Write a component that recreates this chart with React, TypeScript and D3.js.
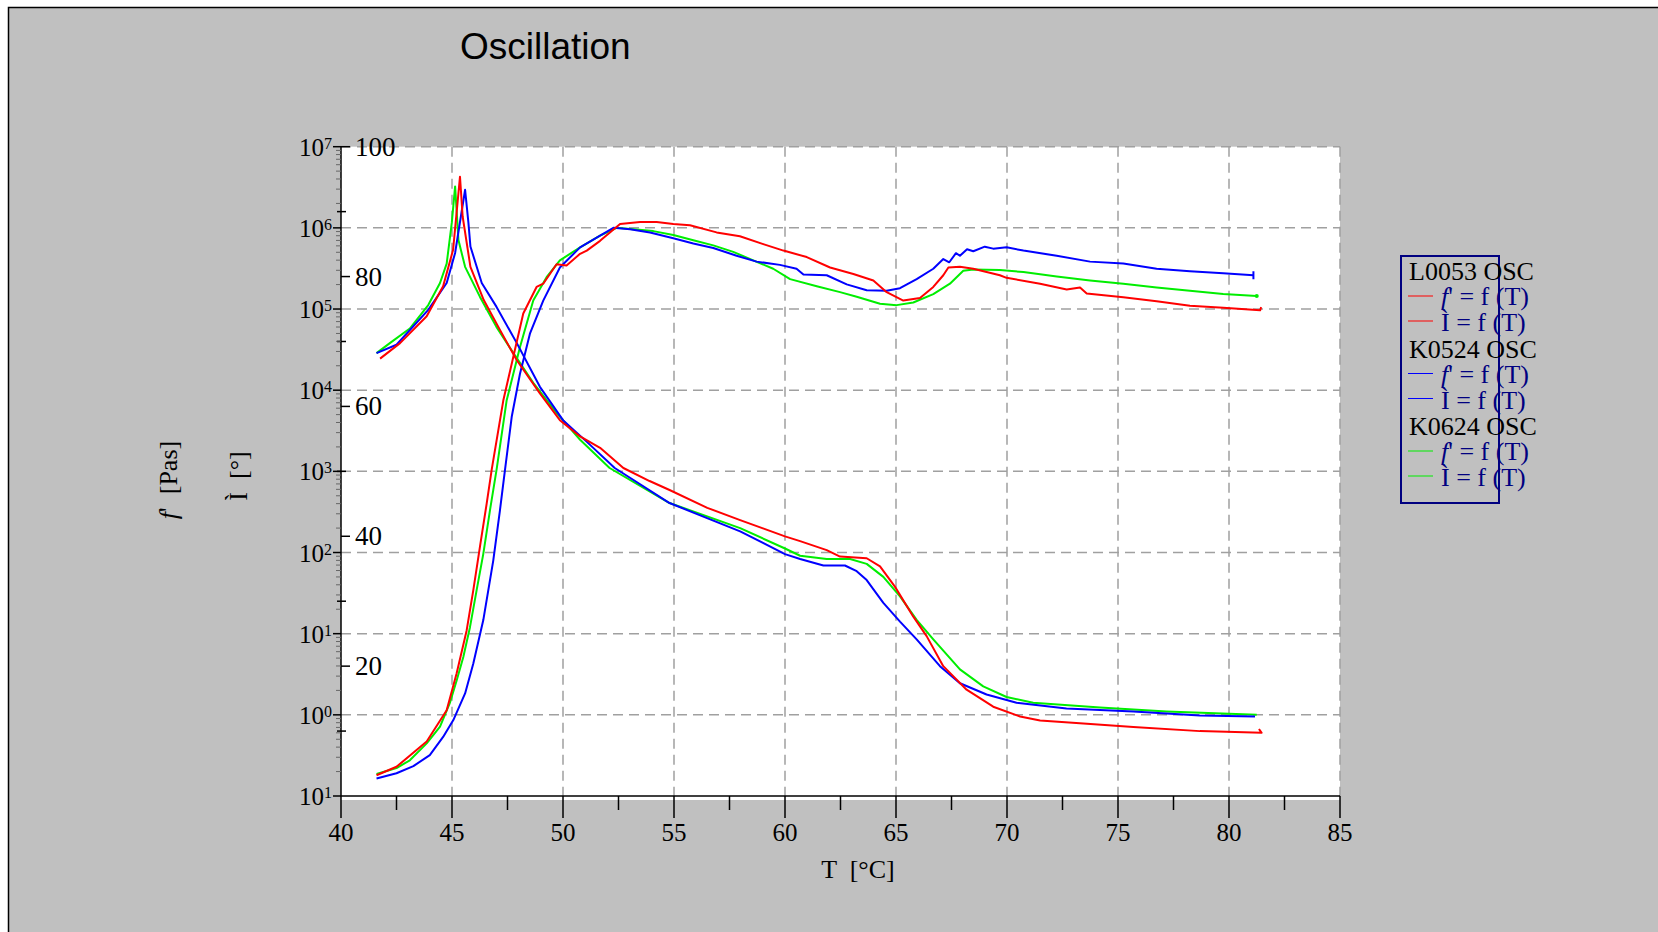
import React from "react";
import * as d3 from "d3";

// oscillation temperature sweep: eta' [Pas] on the log axis, delta [deg] on the linear one
// each point is [T in degC, value]

const redEta: [number, number][] = [
  [41.76, 24500], [42.66, 38000], [43.86, 81300], [44.6, 191000], [45.05, 537000],
  [45.36, 4270000], [45.48, 1380000], [45.83, 331000], [46.43, 129000], [47.16, 55000],
  [47.92, 23400], [48.96, 9120], [49.86, 4270], [50.77, 2690], [51.67, 1950],
  [52.72, 1100], [53.9, 760], [54.8, 589], [56.5, 355], [57.98, 251], [60.0, 158],
  [60.68, 138], [61.88, 107], [62.48, 89], [63.68, 85], [64.28, 67.6], [64.95, 38],
  [65.78, 16.2], [66.38, 9.33], [67.13, 3.98], [68.18, 2.04], [69.38, 1.26],
  [70.59, 0.955], [71.49, 0.85], [73.44, 0.78], [75.69, 0.71], [78.69, 0.63],
  [81.47, 0.6], [81.35, 0.67],
];

const blueEta: [number, number][] = [
  [41.6, 28600], [42.5, 36300], [43.93, 97700], [44.76, 209000], [45.14, 490000],
  [45.59, 2950000], [45.74, 1150000], [45.83, 589000], [46.34, 209000], [47.0, 107000],
  [47.92, 38000], [48.96, 11000], [50.0, 4270], [51.05, 2340], [52.33, 1100],
  [54.8, 407], [57.98, 182], [60.0, 95.5], [60.68, 83.2], [61.73, 69.2], [62.7, 69.2],
  [63.23, 58.9], [63.68, 45.7], [64.43, 24.0], [65.18, 14.1], [65.93, 8.51],
  [66.98, 3.98], [67.88, 2.45], [69.08, 1.78], [70.43, 1.41], [72.68, 1.2],
  [75.69, 1.1], [78.69, 0.98], [81.17, 0.955],
];

const greenEta: [number, number][] = [
  [41.6, 28600], [42.2, 38000], [43.1, 57500], [43.93, 112000], [44.46, 209000],
  [44.76, 363000], [44.99, 1150000], [45.14, 3240000], [45.29, 708000], [45.59, 331000],
  [46.26, 141000], [47.0, 60300], [47.76, 28800], [48.66, 12300], [49.71, 5250],
  [50.77, 2450], [52.1, 1100], [54.8, 407], [57.98, 200], [60.0, 112], [60.68, 91.2],
  [61.88, 83.2], [62.93, 83.2], [63.68, 72.4], [64.43, 50.1], [65.18, 28.8],
  [65.93, 14.8], [66.68, 8.51], [67.88, 3.63], [68.93, 2.24], [69.98, 1.66],
  [71.18, 1.41], [74.19, 1.23], [77.19, 1.1], [81.25, 1.0],
];

const redDelta: [number, number][] = [
  [41.6, 3.2], [42.5, 4.5], [43.86, 8.4], [44.76, 13.2], [45.21, 18.9], [45.66, 25.5],
  [45.96, 31.7], [46.26, 38.4], [46.56, 45.0], [46.79, 50.3], [47.31, 60.9], [47.76, 67.6],
  [48.21, 74.3], [48.81, 78.4], [49.11, 78.9], [49.71, 81.9], [50.16, 81.7], [50.77, 83.5],
  [51.07, 84.0], [51.67, 85.5], [52.57, 88.1], [53.47, 88.4], [54.22, 88.4], [54.97, 88.1],
  [55.72, 87.9], [56.92, 86.8], [57.97, 86.2], [59.02, 85.0], [59.93, 84.0], [60.98, 83.0],
  [62.03, 81.4], [63.08, 80.4], [63.98, 79.4], [64.58, 77.6], [65.33, 76.3], [66.08, 76.7],
  [66.68, 78.4], [67.13, 80.2], [67.36, 81.4], [67.88, 81.5], [68.48, 81.2], [69.68, 80.2],
  [69.98, 79.8], [71.49, 78.9], [72.69, 78.0], [73.29, 78.3], [73.59, 77.4], [75.24, 76.8],
  [76.74, 76.2], [78.24, 75.5], [79.74, 75.2], [81.4, 74.8], [81.45, 75.3],
];

const blueDelta: [number, number][] = [
  [41.6, 2.7], [42.5, 3.5], [43.26, 4.6], [44.0, 6.3], [44.6, 9.1], [45.06, 11.7],
  [45.59, 15.8], [45.96, 20.4], [46.41, 27.1], [46.86, 36.3], [47.16, 44.0], [47.39, 50.3],
  [47.69, 58.4], [48.06, 65.0], [48.51, 71.2], [49.11, 76.3], [49.86, 81.4], [50.77, 84.5],
  [51.67, 86.3], [52.27, 87.5], [53.02, 87.3], [53.92, 86.8], [54.97, 85.9], [55.87, 85.1],
  [56.77, 84.4], [57.82, 83.2], [58.72, 82.3], [59.77, 81.8], [60.52, 81.2], [60.83, 80.3],
  [61.88, 80.2], [62.78, 78.8], [63.68, 77.9], [64.58, 77.8], [65.18, 78.2], [65.93, 79.6],
  [66.68, 81.2], [67.13, 82.7], [67.4, 82.2], [67.7, 83.6], [67.88, 83.2], [68.2, 84.2],
  [68.48, 83.9], [69.0, 84.6], [69.38, 84.3], [69.98, 84.5], [70.74, 84.0], [72.24, 83.2],
  [73.74, 82.3], [75.24, 82.0], [76.74, 81.2], [78.24, 80.8], [79.74, 80.5], [81.1, 80.2],
];

const greenDelta: [number, number][] = [
  [41.6, 3.4], [42.5, 4.3], [43.1, 5.5], [43.86, 8.1], [44.46, 10.7], [44.9, 14.3],
  [45.21, 17.8], [45.51, 21.4], [45.81, 26.0], [46.11, 31.7], [46.41, 37.3], [46.71, 44.0],
  [47.01, 50.3], [47.46, 60.9], [48.06, 69.1], [48.66, 76.3], [49.26, 79.9], [49.86, 82.5],
  [50.77, 84.5], [51.67, 86.3], [52.42, 87.5], [53.17, 87.3], [54.07, 87.0], [54.97, 86.4],
  [55.87, 85.6], [56.77, 84.8], [57.67, 83.8], [58.57, 82.5], [59.47, 81.2], [60.23, 79.6],
  [61.43, 78.5], [62.48, 77.6], [63.23, 76.9], [64.28, 75.8], [65.03, 75.6], [65.78, 76.0],
  [66.68, 77.3], [67.43, 78.9], [68.03, 80.9], [68.48, 81.1], [69.68, 81.0], [70.74, 80.7],
  [72.24, 80.0], [73.74, 79.4], [75.24, 78.9], [76.74, 78.3], [78.24, 77.8], [79.74, 77.3],
  [81.25, 77.0],
];

const sampleNames = ["L0053 OSC", "K0524 OSC", "K0624 OSC"];
const sampleColors = ["#ff0000", "#0000ff", "#00ee00"];

const tempTicks = [40, 45, 50, 55, 60, 65, 70, 75, 80, 85];
const tempMinor = [42.5, 47.5, 52.5, 57.5, 62.5, 67.5, 72.5, 77.5, 82.5];
const etaDecades = [0.1, 1, 10, 100, 1e3, 1e4, 1e5, 1e6, 1e7];
const etaExpLabels = ["1", "0", "1", "2", "3", "4", "5", "6", "7"];
const deltaTicks = [20, 40, 60, 80, 100];
const deltaMinor = [10, 30, 50, 70, 90];

const serif = "'Liberation Serif', 'Times New Roman', serif";
const gridColor = "#a0a0a0";
const navy = "#000080";

export default function App() {
  const left = 341, right = 1340, top = 146.7, bottom = 796;

  const x = d3.scaleLinear().domain([40, 85]).range([left, right]);
  const yEta = d3.scaleLog().domain([0.1, 1e7]).range([bottom, top]);
  const yDelta = d3.scaleLinear().domain([0, 100]).range([bottom, top]);

  const etaLine = d3.line<[number, number]>().x(d => x(d[0])).y(d => yEta(d[1]));
  const deltaLine = d3.line<[number, number]>().x(d => x(d[0])).y(d => yDelta(d[1]));

  const etaData = [redEta, blueEta, greenEta];
  const deltaData = [redDelta, blueDelta, greenDelta];

  // minor log ticks 2..9 inside every decade
  const etaMinor: number[] = [];
  etaDecades.slice(0, -1).forEach(d => {
    for (let k = 2; k <= 9; k++) etaMinor.push(d * k);
  });

  const drawOrder = [2, 1, 0];
  const lastBlue = blueDelta[blueDelta.length - 1];
  const lastGreen = greenDelta[greenDelta.length - 1];
  const pre = { whiteSpace: "pre" as const };

  return (
    <svg
      width={1658}
      height={932}
      style={{ position: "fixed", left: 0, top: 0, background: "#fff" }}
    >
      <rect x={8.5} y={7.5} width={1700} height={1000} fill="#c0c0c0" stroke="#000" strokeWidth={1.5} />

      <text x={460} y={59} fontFamily="'Liberation Sans', Arial, sans-serif" fontSize={37} fill="#000">
        Oscillation
      </text>

      {/* plot background */}
      <rect x={left} y={top} width={right - left} height={bottom - top + 4} fill="#fff" />

      {/* grid */}
      <g stroke={gridColor} strokeWidth={1.5} strokeDasharray="10,6" fill="none">
        {tempTicks.slice(1).map(t => (
          <line key={`gx${t}`} x1={x(t)} x2={x(t)} y1={top} y2={bottom} />
        ))}
        {etaDecades.slice(1).map(v => (
          <line key={`gy${v}`} x1={left} x2={right} y1={yEta(v)} y2={yEta(v)} />
        ))}
      </g>

      {/* axes */}
      <g stroke="#000" strokeWidth={1.5}>
        <line x1={left} x2={left} y1={top} y2={bottom + 22} />
        <line x1={left} x2={right} y1={bottom} y2={bottom} />
        {tempTicks.slice(1).map(t => (
          <line key={`tx${t}`} x1={x(t)} x2={x(t)} y1={bottom} y2={bottom + 22} />
        ))}
        {tempMinor.map(t => (
          <line key={`tm${t}`} x1={x(t)} x2={x(t)} y1={bottom} y2={bottom + 14} />
        ))}
        {etaDecades.map(v => (
          <line key={`te${v}`} x1={left - 8} x2={left} y1={yEta(v)} y2={yEta(v)} />
        ))}
        {deltaTicks.map(v => (
          <line key={`td${v}`} x1={left} x2={left + 9} y1={yDelta(v)} y2={yDelta(v)} />
        ))}
        {deltaMinor.map(v => (
          <line key={`tdm${v}`} x1={left - 4} x2={left + 5} y1={yDelta(v)} y2={yDelta(v)} />
        ))}
      </g>
      <g stroke="#666" strokeWidth={1}>
        {etaMinor.map(v => (
          <line key={`tem${v}`} x1={left - 5} x2={left} y1={yEta(v)} y2={yEta(v)} />
        ))}
      </g>

      {/* tick labels */}
      <g fontFamily={serif} fill="#000">
        {tempTicks.map(t => (
          <text key={`lx${t}`} x={x(t)} y={841} fontSize={25} textAnchor="middle">
            {t}
          </text>
        ))}
        {etaDecades.map((v, i) => (
          <text key={`le${v}`} x={332} y={yEta(v) + 9} fontSize={25} textAnchor="end">
            10
            <tspan fontSize={16} dy={-7}>
              {etaExpLabels[i]}
            </tspan>
          </text>
        ))}
        {deltaTicks.map(v => (
          <text key={`ld${v}`} x={355} y={yDelta(v) + 9} fontSize={27}>
            {v}
          </text>
        ))}
      </g>

      {/* axis titles */}
      <g fontFamily={serif} fontSize={26} fill="#000">
        <text x={858} y={878} textAnchor="middle" style={pre}>
          {"T  [°C]"}
        </text>
        <text transform="translate(177,480) rotate(-90)" textAnchor="middle" style={pre}>
          <tspan fontStyle="italic">f</tspan>
          {"'  [Pas]"}
        </text>
        <text transform="translate(247,476) rotate(-90)" textAnchor="middle" style={pre}>
          {"Ì  [°]"}
        </text>
      </g>

      {/* curves */}
      <g fill="none" strokeWidth={2} strokeLinejoin="round">
        {drawOrder.map(i => (
          <g key={`s${i}`} stroke={sampleColors[i]}>
            <path d={etaLine(etaData[i]) || ""} />
            <path d={deltaLine(deltaData[i]) || ""} />
          </g>
        ))}
      </g>
      <line
        x1={x(lastBlue[0])}
        x2={x(lastBlue[0])}
        y1={yDelta(lastBlue[1]) - 4}
        y2={yDelta(lastBlue[1]) + 4}
        stroke={sampleColors[1]}
        strokeWidth={2}
      />
      <circle cx={x(lastGreen[0])} cy={yDelta(lastGreen[1])} r={2} fill={sampleColors[2]} />

      {/* legend */}
      <rect x={1401} y={256} width={98} height={247} fill="none" stroke={navy} strokeWidth={2} />
      <g fontFamily={serif} fontSize={26}>
        {sampleNames.map((name, i) => {
          const base = 280 + i * 77.5;
          return (
            <g key={name}>
              <text x={1409} y={base} fill="#000">
                {name}
              </text>
              <line x1={1408} x2={1433} y1={base + 16} y2={base + 16} stroke={sampleColors[i]} strokeWidth={1} />
              <text x={1441} y={base + 25} fill={navy}>
                <tspan fontStyle="italic">f</tspan>' = f (T)
              </text>
              <line x1={1408} x2={1433} y1={base + 41} y2={base + 41} stroke={sampleColors[i]} strokeWidth={1} />
              <text x={1441} y={base + 51} fill={navy}>
                Ì = f (T)
              </text>
            </g>
          );
        })}
      </g>
    </svg>
  );
}
